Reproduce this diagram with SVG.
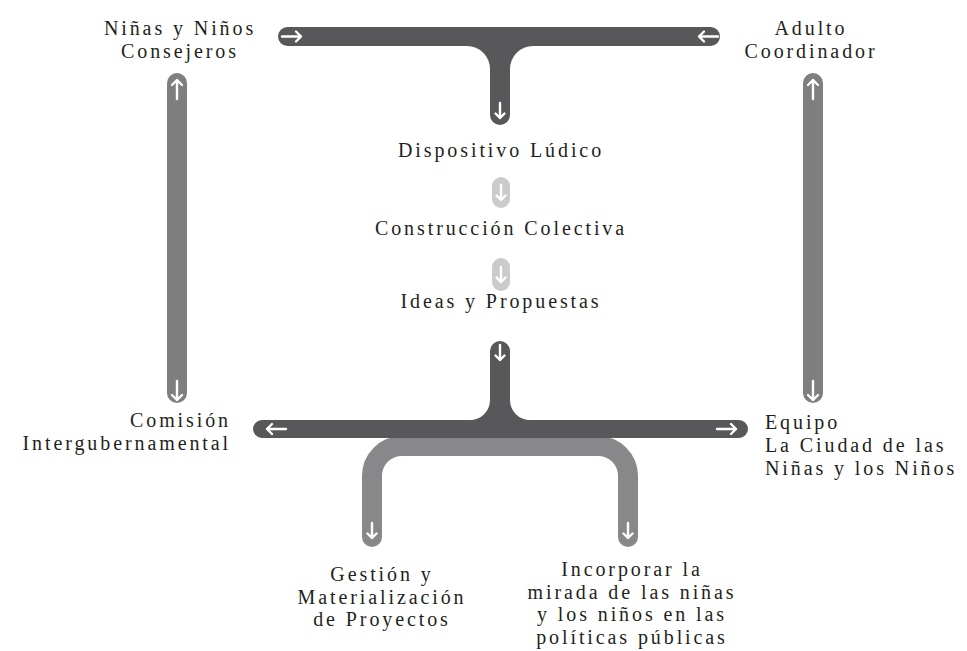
<svg xmlns="http://www.w3.org/2000/svg" xmlns:xlink="http://www.w3.org/1999/xlink" width="967" height="651" viewBox="0 0 967 651">
<style>
  text { font-family: "Liberation Serif", "DejaVu Serif", serif; font-size: 20px; letter-spacing: 2.9px; fill: #231f20; }
  .c { text-anchor: middle; }
  .r { text-anchor: end; }
  .dark { fill: #58585a; }
  .mid { fill: #7f7f82; }
  .light { fill: #cbcbcc; }
  .arw { fill: none; stroke: #ffffff; stroke-width: 2.4; stroke-linecap: round; stroke-linejoin: round; }
</style>
<defs>
  <g id="ad"><path class="arw" d="M0 -10 V9 M-5 4 L0 9 L5 4"/></g>
  <g id="ads"><path class="arw" d="M0 -8 V7 M-4.5 2.5 L0 7 L4.5 2.5"/></g>
</defs>
<rect width="967" height="651" fill="#ffffff"/>
<g id="connectors">
  <path id="u-branch" d="M372 537 V476 A30 30 0 0 1 402 446 H598 A30 30 0 0 1 628 476 V537" fill="none" stroke="#88888b" stroke-width="20" stroke-linecap="round"/>
  <path id="top-t" class="dark" d="M287.5 27 H710.5 A9.5 9.5 0 0 1 710.5 46 H533 A23 23 0 0 0 510 69 V115 A10 10 0 0 1 490 115 V69 A23 23 0 0 0 467 46 H287.5 A9.5 9.5 0 0 1 287.5 27 Z"/>
  <path id="bottom-t" class="dark" d="M262 420 H470 A20 20 0 0 0 490 400 V351 A10 10 0 0 1 510 351 V400 A20 20 0 0 0 530 420 H739 A9 9 0 0 1 739 438 H262 A9 9 0 0 1 262 420 Z"/>
  <rect id="left-v" class="mid" x="167" y="73" width="20" height="330" rx="10"/>
  <rect id="right-v" class="mid" x="803" y="73" width="20" height="330" rx="10"/>
  <rect id="light1" class="light" x="492" y="177" width="18" height="31" rx="9"/>
  <rect id="light2" class="light" x="492" y="258" width="18" height="33" rx="9"/>
  <g id="arrows">
    <use xlink:href="#ad" transform="translate(292 36.5) rotate(-90)"/>
    <use xlink:href="#ad" transform="translate(708 36.5) rotate(90)"/>
    <use xlink:href="#ads" transform="translate(500 111)"/>
    <use xlink:href="#ad" transform="translate(177 89) rotate(180)"/>
    <use xlink:href="#ad" transform="translate(177 391)"/>
    <use xlink:href="#ad" transform="translate(813 89) rotate(180)"/>
    <use xlink:href="#ad" transform="translate(813 391)"/>
    <use xlink:href="#ads" transform="translate(501 193)"/>
    <use xlink:href="#ads" transform="translate(501 275)"/>
    <use xlink:href="#ads" transform="translate(500 353)"/>
    <use xlink:href="#ad" transform="translate(276 429) rotate(90)"/>
    <use xlink:href="#ad" transform="translate(727 429) rotate(-90)"/>
    <use xlink:href="#ads" transform="translate(372 531)"/>
    <use xlink:href="#ads" transform="translate(628 531)"/>
  </g>
</g>
<g id="node-consejeros">
  <text class="c" x="180" y="35">Niñas y Niños</text>
  <text class="c" x="180" y="58">Consejeros</text>
</g>
<g id="node-adulto">
  <text class="c" x="811" y="35">Adulto</text>
  <text class="c" x="811" y="58">Coordinador</text>
</g>
<g id="node-dispositivo">
  <text class="c" x="501" y="157">Dispositivo Lúdico</text>
</g>
<g id="node-construccion">
  <text class="c" x="501" y="235">Construcción Colectiva</text>
</g>
<g id="node-ideas">
  <text class="c" x="501" y="308">Ideas y Propuestas</text>
</g>
<g id="node-comision">
  <text class="r" x="231" y="427">Comisión</text>
  <text class="r" x="231" y="450">Intergubernamental</text>
</g>
<g id="node-equipo">
  <text x="765" y="429">Equipo</text>
  <text x="765" y="452">La Ciudad de las</text>
  <text x="765" y="475">Niñas y los Niños</text>
</g>
<g id="node-gestion">
  <text class="c" x="382" y="581">Gestión y</text>
  <text class="c" x="382" y="603.5">Materialización</text>
  <text class="c" x="382" y="626">de Proyectos</text>
</g>
<g id="node-incorporar">
  <text class="c" x="632" y="576">Incorporar la</text>
  <text class="c" x="632" y="598.5">mirada de las niñas</text>
  <text class="c" x="632" y="621">y los niños en las</text>
  <text class="c" x="632" y="643.5">políticas públicas</text>
</g>
</svg>
